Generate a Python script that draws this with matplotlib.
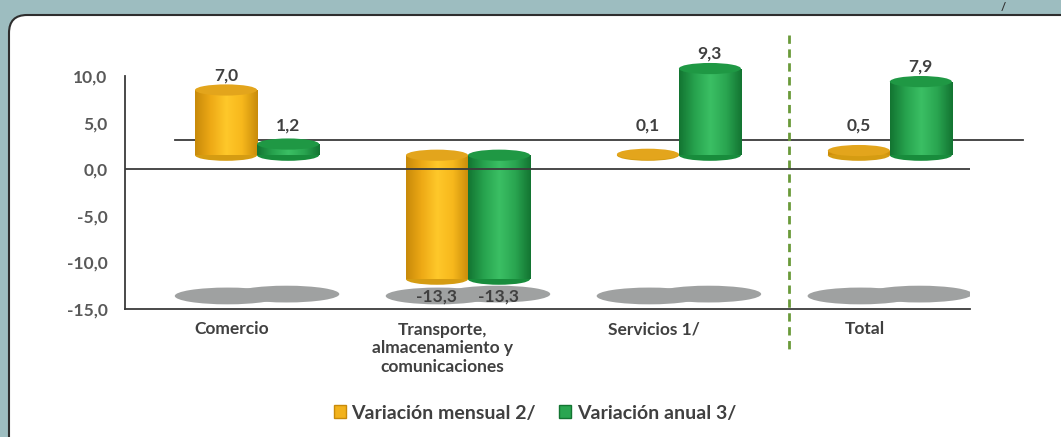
import numpy as np
import matplotlib
matplotlib.use("Agg")
import matplotlib.pyplot as plt
from matplotlib.patches import Ellipse, FancyBboxPatch, Rectangle, Patch
from matplotlib.colors import LinearSegmentedColormap
from matplotlib.transforms import IdentityTransform

plt.rcParams['font.family'] = ['Lato', 'DejaVu Sans']
plt.rcParams['font.weight'] = 'bold'

# datos
categorias = ["Comercio", "Transporte,\nalmacenamiento y\ncomunicaciones", "Servicios 1/", "Total"]
mensual = [7.0, -13.3, 0.1, 0.5]
anual = [1.2, -13.3, 9.3, 7.9]
series = ["Variación mensual 2/", "Variación anual 3/"]
yticks = [10, 5, 0, -5, -10, -15]

fig = plt.figure(figsize=(10.61, 4.37), dpi=100)
fig.patch.set_facecolor("#9dbdc0")

# white panel with rounded corner
panel = FancyBboxPatch((9, -30), 1100, 437 - 15 + 30, boxstyle="round,pad=0,rounding_size=18",
                       transform=IdentityTransform(), facecolor="white", edgecolor="#2e2e2e",
                       linewidth=1.5, zorder=-5)
fig.patches.append(panel)
fig.text(1003 / 1061, 1 - 2 / 437, "/", fontsize=8, color="#333333", ha="center", va="top")

ax = fig.add_axes([125 / 1061, 1 - 309 / 437, 845 / 1061, 233 / 437])
ax.set_zorder(1)
ax.set_facecolor("none")

w = 0.294
base = 1.5      # 3D floor offset
depth = 1.2     # ellipse height in data units
x = np.arange(len(categorias))

cm_y = LinearSegmentedColormap.from_list("y", ["#c88a0a", "#eeaa16", "#ffc82a", "#f7b81c", "#c98c0b"])
cm_g = LinearSegmentedColormap.from_list("g", ["#137532", "#27a34e", "#3bbf64", "#2aa651", "#137532"])
grad = np.linspace(0, 1, 100).reshape(1, -1)


def cylinder(xc, v, cmap, topc, botc):
    lo, hi = min(base, base + v), max(base, base + v)
    ax.add_patch(Ellipse((xc, lo), w, depth, facecolor=botc, edgecolor="none", zorder=2, clip_on=False))
    rect = Rectangle((xc - w / 2, lo), w, hi - lo, facecolor="none", edgecolor="none", zorder=3, clip_on=False)
    ax.add_patch(rect)
    im = ax.imshow(grad, cmap=cmap, extent=(xc - w / 2, xc + w / 2, lo, hi), aspect="auto", zorder=3)
    im.set_clip_box(None)
    im.set_clip_path(rect)
    ax.add_patch(Ellipse((xc, hi), w, depth, facecolor=topc, edgecolor="none", zorder=4, clip_on=False))
    if v >= 0:
        ly = max(hi, 3.1) + 1.6
    else:
        ly = lo - 1.9
    ax.text(xc, ly, f"{v:.1f}".replace(".", ","), ha="center", va="center", fontsize=12.5,
            color="#404040", fontweight="bold", zorder=6)


# shadows
for c in x:
    ax.add_patch(Ellipse((c - 0.14, -13.6), 0.5, 1.8, facecolor="#9fa1a1", edgecolor="none", zorder=1))
    ax.add_patch(Ellipse((c + 0.14, -13.4), 0.5, 1.8, facecolor="#9fa1a1", edgecolor="none", zorder=1))

for i, c in enumerate(x):
    cylinder(c - w / 2, mensual[i], cm_y, "#e3a51c", "#d59c12")
    cylinder(c + w / 2, anual[i], cm_g, "#1f9844", "#188c3c")

# back wall line and zero line
ax.plot([-0.389, 3.63], [3.1, 3.1], color="#3a3a3a", lw=1.3, clip_on=False, zorder=1.5)
ax.axhline(0, color="#3a3a3a", lw=1.3, zorder=5)
ax.plot([2.52, 2.52], [14.4, -19.5], color="#6a9a3a", lw=2, ls=(0, (3, 2)), clip_on=False, zorder=1.5)

ax.set_xlim(-0.626, 3.38)
ax.set_ylim(-15, 10)
ax.set_yticks(yticks)
ax.set_yticklabels([f"{t:.1f}".replace(".", ",") for t in yticks], fontsize=12.5, color="#595959",
                   fontweight="bold")
ax.set_xticks(x - 0.12)
ax.set_xticklabels(categorias, fontsize=12.5, color="#404040", fontweight="bold", linespacing=1.2, va="top")
ax.tick_params(axis="y", length=0, pad=12.5)
ax.tick_params(axis="x", length=0, pad=9)
for s in ["top", "right"]:
    ax.spines[s].set_visible(False)
for s in ["left", "bottom"]:
    ax.spines[s].set_color("#3a3a3a")
    ax.spines[s].set_linewidth(1.3)

handles = [Patch(facecolor="#f2b21c", edgecolor="#c88a0a"), Patch(facecolor="#2aa651", edgecolor="#137532")]
fig.legend(handles, series, loc="center", bbox_to_anchor=(535 / 1061, 1 - 413 / 437), ncol=2, frameon=False,
           prop={"size": 14, "weight": "bold"}, labelcolor="#404040", handlelength=0.6, handleheight=0.6,
           handletextpad=0.3, columnspacing=1.2)

fig.savefig("out.png", dpi=100, facecolor=fig.get_facecolor())
